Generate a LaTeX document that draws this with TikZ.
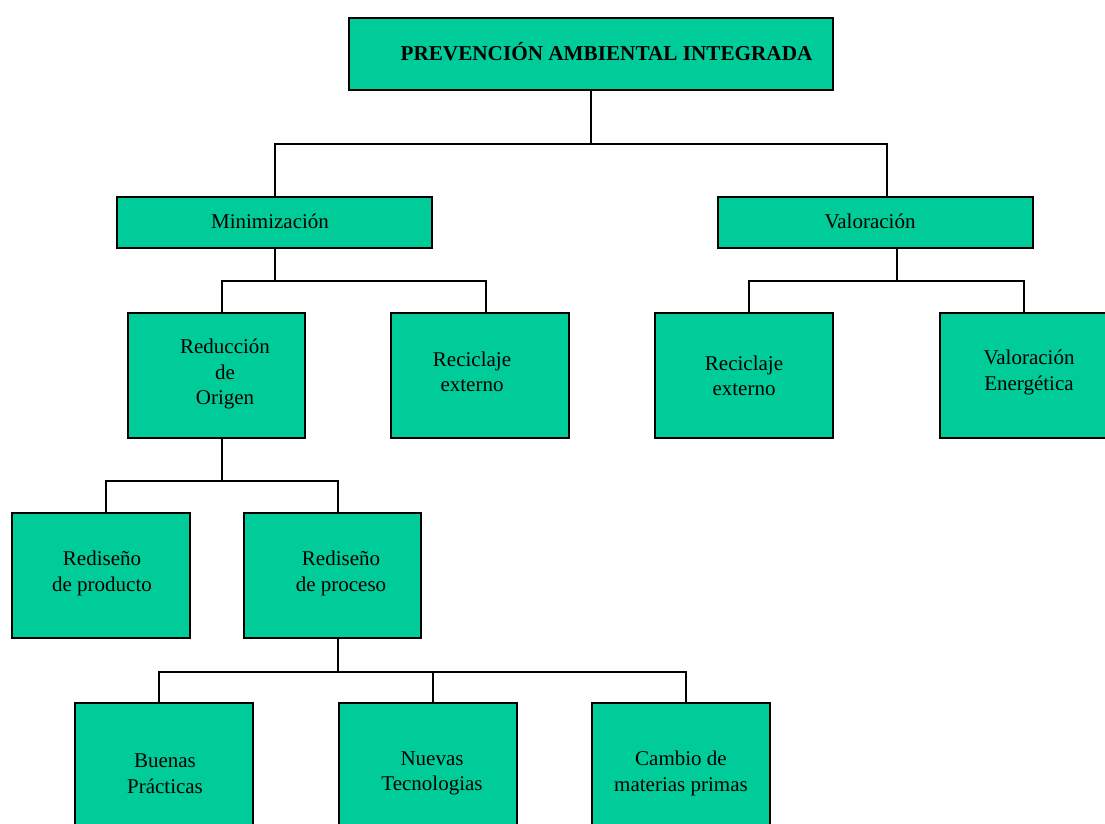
\documentclass[tikz,border=0pt]{standalone}
\usepackage{fontspec}
\setmainfont{Liberation Serif}
\definecolor{boxgreen}{HTML}{00CC99}
\begin{document}
\begin{tikzpicture}[x=1pt,y=-1pt,
  box/.style={draw=black,line width=1.5pt,fill=boxgreen,rectangle,inner sep=0pt},
  tall/.style={box,minimum width=178pt,minimum height=125pt},
  wide/.style={box,minimum width=315pt,minimum height=51pt},
  txt/.style={font=\fontsize{21}{25.5}\selectfont,align=center,inner sep=0pt},
  link/.style={line width=1.6pt,draw=black}]
\useasboundingbox (0,0) rectangle (1105,823);
\clip (0,0) rectangle (1105,823);

% boxes
\node[box,minimum width=484pt,minimum height=72pt] (top) at (591,54) {};
\node[txt,font=\bfseries\fontsize{21.2}{25}\selectfont] (toptxt) at (606.5,52) {PREVENCIÓN AMBIENTAL INTEGRADA};

\node[wide] (mini) at (274.5,222.5) {};
\node[txt] (minit) at (270,221) {Minimización};
\node[wide] (valo) at (875.5,222.5) {};
\node[txt] (valot) at (870,221) {Valoración};

\node[tall,minimum width=177pt] (red) at (216.5,375.5) {};
\node[txt] (redt) at (225,374) {Reducción\\de\\Origen};
\node[tall] (rec1) at (480,375.5) {};
\node[txt] (rec1t) at (472,372) {Reciclaje\\externo};
\node[tall] (rec2) at (744,375.5) {};
\node[txt] (rec2t) at (744,376) {Reciclaje\\externo};
\node[tall] (ven) at (1029,375.5) {};
\node[txt] (vent) at (1029,372.5) {Valoración\\Energética};

\node[tall] (prod) at (101,575.5) {};
\node[txt] (prodt) at (102,573.5) {Rediseño\\de producto};
\node[tall,minimum width=177pt] (proc) at (332.5,575.5) {};
\node[txt] (proct) at (341,573.5) {Rediseño\\de proceso};

\node[tall] (buen) at (164,765.5) {};
\node[txt] (buent) at (165,773.5) {Buenas\\Prácticas};
\node[tall] (nuev) at (428,765.5) {};
\node[txt] (nuevt) at (432,773.5) {Nuevas\\Tecnologias};
\node[tall] (camb) at (681,765.5) {};
\node[txt] (cambt) at (681,773.5) {Cambio de\\materias primas};

% junctions of the tree
\coordinate (j1) at (591,144);
\coordinate (j2) at (275,281);
\coordinate (j3) at (897,281);
\coordinate (j4) at (222,481);
\coordinate (j5) at (338,672);

% connectors
\draw[link] (top.south) -- (j1) -| ([xshift=0.5pt]mini.north);
\draw[link] (j1) -| ([xshift=11.5pt]valo.north);
\draw[link] ([xshift=0.5pt]mini.south) -- (j2) -| ([xshift=5.5pt]red.north);
\draw[link] (j2) -| ([xshift=6pt]rec1.north);
\draw[link] ([xshift=21.5pt]valo.south) -- (j3) -| ([xshift=5pt]rec2.north);
\draw[link] (j3) -| ([xshift=-5pt]ven.north);
\draw[link] ([xshift=5.5pt]red.south) -- (j4) -| ([xshift=5pt]prod.north);
\draw[link] (j4) -| ([xshift=5.5pt]proc.north);
\draw[link] ([xshift=5.5pt]proc.south) -- (j5) -| ([xshift=-5pt]buen.north);
\draw[link] (j5) -| ([xshift=5pt]nuev.north);
\draw[link] (j5) -| ([xshift=5pt]camb.north);
\end{tikzpicture}
\end{document}
